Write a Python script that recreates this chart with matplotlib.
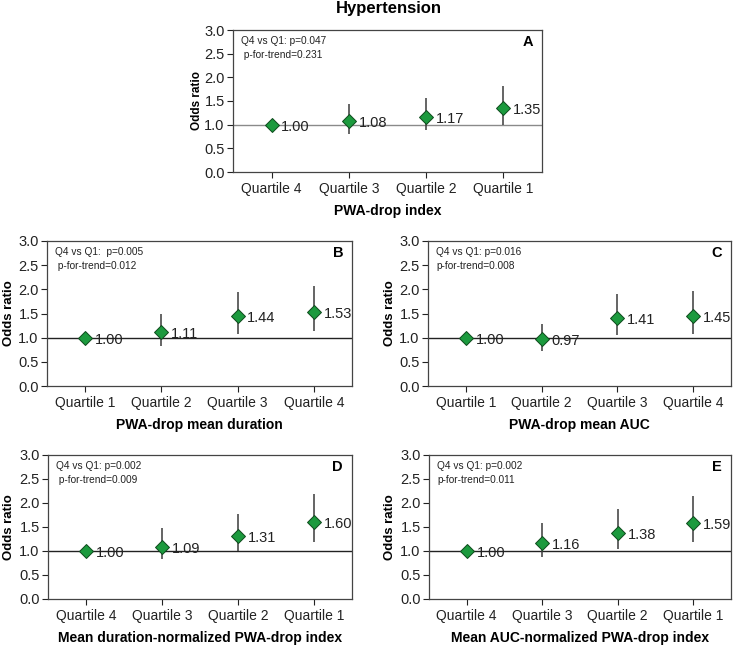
import matplotlib
matplotlib.use("Agg")
import matplotlib.pyplot as plt

plt.rcParams['font.family'] = ['Liberation Sans', 'DejaVu Sans']

W, H = 736, 647

# panel data: categories, odds ratios, CI low, CI high
labels_a = ["Quartile 4", "Quartile 3", "Quartile 2", "Quartile 1"]
or_a = [1.00, 1.08, 1.17, 1.35]
lo_a = [1.00, 0.81, 0.88, 1.00]
hi_a = [1.00, 1.44, 1.56, 1.82]

labels_b = ["Quartile 1", "Quartile 2", "Quartile 3", "Quartile 4"]
or_b = [1.00, 1.11, 1.44, 1.53]
lo_b = [1.00, 0.82, 1.07, 1.14]
hi_b = [1.00, 1.49, 1.94, 2.07]

labels_c = ["Quartile 1", "Quartile 2", "Quartile 3", "Quartile 4"]
or_c = [1.00, 0.97, 1.41, 1.45]
lo_c = [1.00, 0.73, 1.05, 1.07]
hi_c = [1.00, 1.29, 1.90, 1.97]

labels_d = ["Quartile 4", "Quartile 3", "Quartile 2", "Quartile 1"]
or_d = [1.00, 1.09, 1.31, 1.60]
lo_d = [1.00, 0.83, 0.99, 1.19]
hi_d = [1.00, 1.47, 1.77, 2.19]

labels_e = ["Quartile 4", "Quartile 3", "Quartile 2", "Quartile 1"]
or_e = [1.00, 1.16, 1.38, 1.59]
lo_e = [1.00, 0.87, 1.04, 1.19]
hi_e = [1.00, 1.58, 1.87, 2.15]

panels = [
    # letter, labels, or, lo, hi, xlabel, stats text, box px (l, t, r, b), ref line colour, ylabel size, ylabel px
    ("A", labels_a, or_a, lo_a, hi_a, "PWA-drop index",
     "Q4 vs Q1: p=0.047\n p-for-trend=0.231", (233, 30, 542, 172), "#8a8a8a", 8.5, -30),
    ("B", labels_b, or_b, lo_b, hi_b, "PWA-drop mean duration",
     "Q4 vs Q1:  p=0.005\n p-for-trend=0.012", (47, 241, 352, 386), "#222222", 9.5, -32),
    ("C", labels_c, or_c, lo_c, hi_c, "PWA-drop mean AUC",
     "Q4 vs Q1: p=0.016\np-for-trend=0.008", (428, 241, 731, 386), "#222222", 9.5, -32),
    ("D", labels_d, or_d, lo_d, hi_d, "Mean duration-normalized PWA-drop index",
     "Q4 vs Q1: p=0.002\n p-for-trend=0.009", (48, 455, 352, 599), "#222222", 9.5, -33),
    ("E", labels_e, or_e, lo_e, hi_e, "Mean AUC-normalized PWA-drop index",
     "Q4 vs Q1: p=0.002\np-for-trend=0.011", (429, 455, 731, 599), "#222222", 9.5, -33),
]

fig = plt.figure(figsize=(W / 100, H / 100), dpi=100)
fig.text(389 / W, 1 - 9 / H, "Hypertension", ha="center", va="center",
         fontsize=12, fontweight="bold")

for letter, cats, ors, lo, hi, xlab, stats, box, refc, ysize, ypos in panels:
    l, t, r, b = box
    ax = fig.add_axes([l / W, 1 - b / H, (r - l) / W, (b - t) / H])
    x = list(range(len(cats)))
    yerr = [[o - a for o, a in zip(ors, lo)], [h - o for o, h in zip(ors, hi)]]
    ax.axhline(1.0, color=refc, lw=1, zorder=1)
    ax.errorbar(x, ors, yerr=yerr, fmt="none", ecolor="#3a3a3a", elinewidth=1.1,
                capsize=0, zorder=2)
    ax.plot(x, ors, "D", ms=7.5, mfc="#1c9a3e", mec="#0d4a1c", mew=0.7, zorder=3)
    for xi, v in zip(x, ors):
        ax.annotate(f"{v:.2f}", (xi, v), xytext=(7, -1.5), textcoords="offset points",
                    ha="left", va="center", fontsize=10.5, color="#222222")
    ax.set_xlim(-0.5, len(cats) - 0.5)
    ax.set_ylim(0, 3)
    ax.set_yticks([0, 0.5, 1.0, 1.5, 2.0, 2.5, 3.0])
    ax.set_yticklabels([f"{v:.1f}" for v in ax.get_yticks()])
    ax.set_xticks(x)
    ax.set_xticklabels(cats)
    ax.tick_params(labelsize=10.5, colors="#222222", direction="out", length=4, width=0.8)
    ax.tick_params(axis="x", labelsize=10, pad=3)
    ax.tick_params(axis="y", pad=2)
    for s in ax.spines.values():
        s.set_color("#444444")
        s.set_linewidth(0.9)
    ax.set_ylabel("Odds ratio", fontsize=ysize, fontweight="bold")
    ax.yaxis.set_label_coords(ypos / (r - l), 0.5)
    ax.set_xlabel(xlab, fontsize=10, fontweight="bold", labelpad=6)
    ax.text(8 / (r - l), 1 - 6 / (b - t), stats, transform=ax.transAxes, ha="left",
            va="top", fontsize=7.3, linespacing=1.5, color="#222222")
    ax.text(1 - 9 / (r - l), 1 - 12 / (b - t), letter, transform=ax.transAxes,
            ha="right", va="center", fontsize=10.5, fontweight="bold")

fig.savefig("out.png", dpi=100)
